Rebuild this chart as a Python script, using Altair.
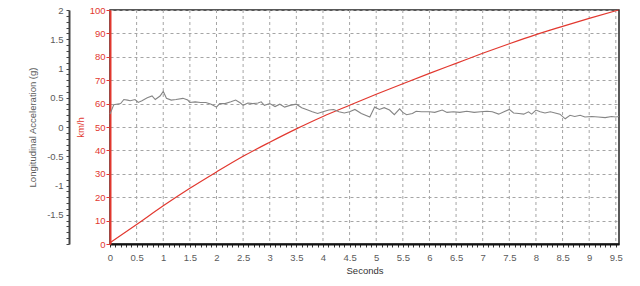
import altair as alt
import pandas as pd

# Speed trace (km/h vs seconds)
speed_t = [0, 0.5, 1, 1.5, 2, 2.5, 3, 3.5, 4, 4.5, 5, 5.5, 6, 6.5, 7, 7.5, 8, 8.5, 9, 9.55]
speed_kmh = [0.5, 8.3, 16.3, 23.8, 30.8, 37.5, 43.5, 49.2, 54.5, 59.3, 64, 68.5, 72.9, 77.2, 81.5, 85.6, 89.5, 93, 96.4, 100]

# Longitudinal acceleration trace (g vs seconds)
accel_t = [0, 0.07, 0.2, 0.26, 0.33, 0.38, 0.47, 0.53, 0.6, 0.7,
           0.79, 0.85, 0.94, 1.0, 1.06, 1.15, 1.24, 1.37, 1.46, 1.5,
           1.6, 1.7, 1.8, 1.9, 2.0, 2.06, 2.16, 2.27, 2.36, 2.45,
           2.5, 2.59, 2.68, 2.78, 2.84, 2.9, 3.0, 3.1, 3.19, 3.28,
           3.38, 3.5, 3.6, 3.69, 3.8, 3.9, 4.0, 4.11, 4.2, 4.3,
           4.4, 4.5, 4.6, 4.72, 4.88, 4.97, 5.06, 5.15, 5.25, 5.34,
           5.44, 5.5, 5.57, 5.68, 5.75, 5.85, 6.0, 6.1, 6.24, 6.33,
           6.45, 6.57, 6.7, 6.84, 6.96, 7.08, 7.18, 7.3, 7.4, 7.5,
           7.58, 7.68, 7.77, 7.86, 7.92, 8.0, 8.08, 8.17, 8.27, 8.36,
           8.45, 8.55, 8.64, 8.73, 8.83, 8.92, 9.05, 9.17, 9.3, 9.42,
           9.5, 9.56]
accel_g = [0.22, 0.38, 0.40, 0.47, 0.46, 0.45, 0.47, 0.42, 0.45, 0.50,
           0.53, 0.47, 0.53, 0.61, 0.49, 0.46, 0.47, 0.49, 0.46, 0.42,
           0.43, 0.42, 0.42, 0.39, 0.34, 0.40, 0.40, 0.43, 0.46, 0.41,
           0.37, 0.41, 0.40, 0.41, 0.43, 0.37, 0.40, 0.35, 0.39, 0.34,
           0.37, 0.39, 0.33, 0.30, 0.26, 0.23, 0.26, 0.29, 0.30, 0.26,
           0.24, 0.26, 0.30, 0.23, 0.17, 0.34, 0.30, 0.33, 0.29, 0.21,
           0.31, 0.25, 0.21, 0.23, 0.27, 0.26, 0.26, 0.25, 0.29, 0.25,
           0.26, 0.25, 0.27, 0.25, 0.26, 0.27, 0.26, 0.22, 0.26, 0.30,
           0.24, 0.23, 0.22, 0.26, 0.22, 0.29, 0.26, 0.24, 0.26, 0.24,
           0.22, 0.14, 0.20, 0.18, 0.20, 0.17, 0.18, 0.17, 0.16, 0.18,
           0.17, 0.18]

# Axis ticks
x_major_ticks = [0, 0.5, 1, 1.5, 2, 2.5, 3, 3.5, 4, 4.5, 5, 5.5, 6, 6.5, 7, 7.5, 8, 8.5, 9, 9.5]
x_minor_ticks = [round(i / 10, 1) for i in range(0, 96)]
speed_ticks = [0, 10, 20, 30, 40, 50, 60, 70, 80, 90, 100]
accel_minor_ticks = [round(-2 + i / 10, 1) for i in range(0, 41)]

RED = "#e2382f"
GREY_TXT = "#5a5a5a"
GRID = "#a5a5a5"
FONT = "Liberation Sans"

speed_df = pd.DataFrame({"t": speed_t, "v": speed_kmh})
accel_df = pd.DataFrame({"t": accel_t, "g": accel_g})
grid_df = pd.DataFrame({"t": x_major_ticks[1:]})

x_enc = alt.X(
    "t:Q",
    scale=alt.Scale(domain=[0, 9.56], nice=False, zero=False),
    axis=alt.Axis(
        values=x_minor_ticks,
        labelExpr="abs(datum.value*2 - round(datum.value*2)) < 0.01 ? '' + datum.value : ''",
        title="Seconds",
        grid=False,
        domainColor="#111111",
        domainWidth=2,
        tickColor="#333333",
        tickSize=3,
        labelColor=GREY_TXT,
        titleColor="#333333",
        labelFontSize=9.5,
        titleFontSize=9.5,
        titleFontWeight="normal",
        labelPadding=5,
        titlePadding=4,
        labelOverlap=False,
        labelFlush=False,
    ),
)

grid_x = alt.Chart(grid_df).mark_rule(
    color=GRID, strokeDash=[3, 3], strokeWidth=1
).encode(x=x_enc)

speed_line = alt.Chart(speed_df).mark_line(
    color=RED, strokeWidth=1.2, interpolate="monotone"
).encode(
    x=x_enc,
    y=alt.Y(
        "v:Q",
        scale=alt.Scale(domain=[0, 100], nice=False),
        axis=alt.Axis(
            orient="left",
            values=speed_ticks,
            title="km/h",
            grid=True,
            gridColor=GRID,
            gridDash=[3, 3],
            gridWidth=1,
            domainColor=RED,
            domainWidth=2,
            tickColor=RED,
            tickSize=4,
            labelColor=RED,
            titleColor=RED,
            labelFontSize=9.5,
            titleFontSize=9.5,
            titleFontWeight="normal",
            labelPadding=1,
            titlePadding=4,
        ),
    ),
)

accel_line = alt.Chart(accel_df).mark_line(color="#858585", strokeWidth=1.1).encode(
    x=x_enc,
    y=alt.Y(
        "g:Q",
        scale=alt.Scale(domain=[-2, 2], nice=False, zero=False),
        axis=alt.Axis(
            orient="left",
            offset=41,
            values=accel_minor_ticks,
            labelExpr="(abs(datum.value*2 - round(datum.value*2)) < 0.01 && datum.value > -1.99) ? '' + datum.value : ''",
            title="Longitudinal Acceleration (g)",
            grid=False,
            domainColor="#444444",
            domainWidth=2,
            tickColor="#444444",
            tickSize=3,
            labelColor=GREY_TXT,
            titleColor=GREY_TXT,
            labelFontSize=9.5,
            titleFontSize=9.5,
            titleFontWeight="normal",
            labelPadding=3,
            titlePadding=9,
            labelOverlap=False,
            labelFlush=False,
        ),
    ),
)

chart = (
    alt.layer(grid_x, speed_line, accel_line)
    .resolve_scale(y="independent")
    .resolve_axis(y="independent")
    .properties(
        width=509,
        height=234,
        autosize=alt.AutoSizeParams(type="none"),
        padding={"left": 110, "top": 10, "right": 21, "bottom": 42},
        background="white",
    )
    .configure_view(stroke="#222222", strokeWidth=1.5)
    .configure_axis(labelFont=FONT, titleFont=FONT)
)

chart.save("out.html", embed_options={"renderer": "svg", "actions": False})
